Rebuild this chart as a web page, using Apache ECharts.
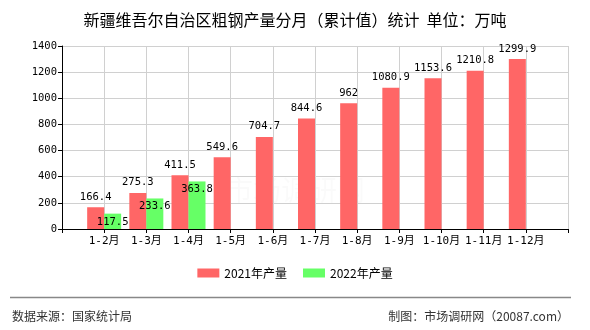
<!DOCTYPE html>
<html>
<head>
<meta charset="utf-8">
<script src="https://cdn.jsdelivr.net/npm/echarts@6/dist/echarts.min.js"></script>
<style>
  html, body { margin: 0; padding: 0; background: #fff; }
  #chart { width: 590px; height: 330px; }
</style>
</head>
<body>
<div id="chart"></div>
<script>
// Month-range categories; empty slots pad both ends so bars sit on the grid lines
const categories = ['', '1-2月', '1-3月', '1-4月', '1-5月', '1-6月', '1-7月', '1-8月', '1-9月', '1-10月', '1-11月', '1-12月', ''];
const output2021 = [null, 166.4, 275.3, 411.5, 549.6, 704.7, 844.6, 962, 1080.9, 1153.6, 1210.8, 1299.9, null];
const output2022 = [null, 117.5, 233.6, 363.8, null, null, null, null, null, null, null, null, null];
const yTicks = { min: 0, max: 1400, interval: 200 };
const seriesNames = ['2021年产量', '2022年产量'];

const monoFont = "'DejaVu Sans Mono', 'Noto Sans CJK SC', monospace";
const cjkFont = "'Noto Sans CJK SC', sans-serif";

const chart = echarts.init(document.getElementById('chart'));
chart.setOption({
  animation: false,
  backgroundColor: '#fff',
  title: {
    text: '新疆维吾尔自治区粗钢产量分月（累计值）统计  单位：万吨',
    left: 'center',
    top: 7,
    textStyle: { fontFamily: cjkFont, fontSize: 16, fontWeight: 'normal', color: '#000' }
  },
  legend: {
    data: seriesNames,
    bottom: 46,
    left: 'center',
    icon: 'rect',
    itemWidth: 22,
    itemHeight: 9,
    itemGap: 16,
    textStyle: { fontFamily: cjkFont, fontSize: 12, color: '#000' }
  },
  grid: { left: 62, right: 22, top: 46, bottom: 101 },
  xAxis: {
    type: 'category',
    data: categories,
    boundaryGap: false,
    axisLine: { lineStyle: { color: '#000', width: 1 } },
    axisTick: { show: true, interval: 0, length: 4, lineStyle: { color: '#000' } },
    axisLabel: { interval: 0, margin: 7, fontFamily: monoFont, fontSize: 11, color: '#000' },
    splitLine: { show: true, interval: 0, lineStyle: { color: '#d0d0d0', width: 1 } }
  },
  yAxis: {
    type: 'value',
    min: yTicks.min,
    max: yTicks.max,
    interval: yTicks.interval,
    axisLine: { show: true, lineStyle: { color: '#000', width: 1 } },
    axisTick: { show: true, length: 4, lineStyle: { color: '#000' } },
    axisLabel: {
      margin: 5,
      fontFamily: monoFont,
      fontSize: 10.5,
      color: '#000',
      formatter: (v) => String(v)
    },
    splitLine: { show: true, lineStyle: { color: '#d0d0d0', width: 1 } }
  },
  graphic: [
    {
      type: 'text',
      left: 'center',
      top: 176,
      style: { text: '市场调研网', fill: 'rgba(0,0,0,0.02)', font: '28px ' + cjkFont }
    },
    {
      type: 'line',
      shape: { x1: 10, y1: 297.5, x2: 571, y2: 297.5 },
      style: { stroke: '#888', lineWidth: 1.5 }
    },
    {
      type: 'text',
      left: 12,
      top: 310,
      style: { text: '数据来源：国家统计局', fill: '#333', font: '12px ' + cjkFont }
    },
    {
      type: 'text',
      right: 21,
      top: 310,
      style: { text: '制图：市场调研网（20087.com）', fill: '#333', font: '12px ' + cjkFont }
    }
  ],
  series: [
    {
      name: seriesNames[0],
      type: 'bar',
      data: output2021,
      barWidth: 17,
      barGap: '0%',
      itemStyle: { color: '#ff6666' },
      label: {
        show: true,
        position: 'top',
        distance: 5,
        fontFamily: monoFont,
        fontSize: 10.5,
        color: '#000'
      }
    },
    {
      name: seriesNames[1],
      type: 'bar',
      data: output2022,
      barWidth: 17,
      barGap: '0%',
      itemStyle: { color: '#66ff66' },
      label: {
        show: true,
        position: 'insideTop',
        distance: 3,
        fontFamily: monoFont,
        fontSize: 10.5,
        color: '#000'
      }
    }
  ]
});
</script>
</body>
</html>
